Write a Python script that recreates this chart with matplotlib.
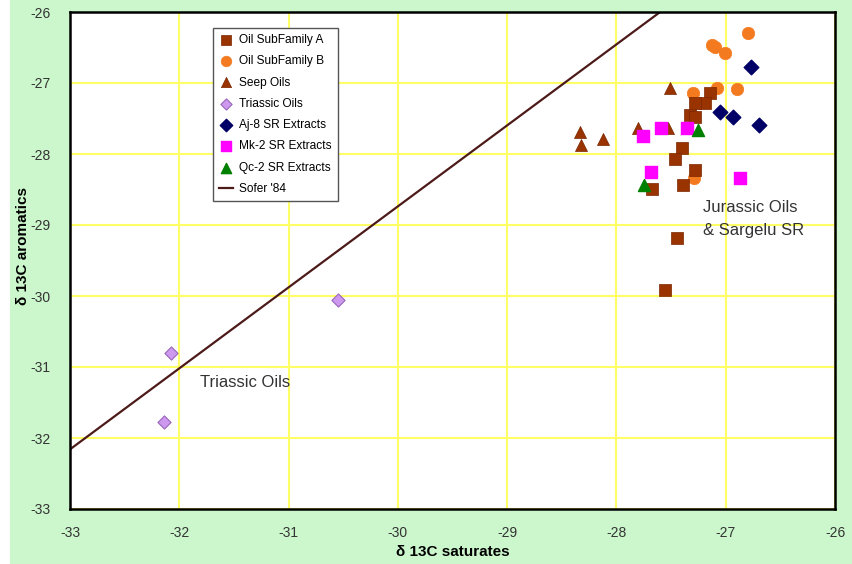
import matplotlib
matplotlib.use("Agg")
import matplotlib.pyplot as plt
from matplotlib.patches import Rectangle

plt.rcParams['font.family'] = ['Liberation Sans', 'DejaVu Sans']
plt.rcParams['axes.unicode_minus'] = False

# Data (delta 13C, per mil)
subA_sat = [-27.14, -27.19, -27.28, -27.33, -27.28, -27.40, -27.46, -27.28,
            -27.39, -27.67, -27.45, -27.56]
subA_aro = [-27.14, -27.28, -27.28, -27.45, -27.48, -27.91, -28.07, -28.22,
            -28.43, -28.49, -29.19, -29.91]

subB_sat = [-26.80, -27.13, -27.10, -27.01, -27.08, -26.90, -27.30, -27.29]
subB_aro = [-26.30, -26.46, -26.49, -26.58, -27.07, -27.09, -27.14, -28.34]

seep_sat = [-28.33, -28.32, -28.12, -27.51, -27.80, -27.53]
seep_aro = [-27.69, -27.88, -27.79, -27.07, -27.63, -27.63]

tri_sat = [-32.08, -32.14, -30.55]
tri_aro = [-30.80, -31.78, -30.06]

aj8_sat = [-26.77, -27.05, -26.93, -26.70]
aj8_aro = [-26.77, -27.41, -27.48, -27.59]

mk2_sat = [-27.76, -27.59, -27.35, -27.68, -26.87]
mk2_aro = [-27.74, -27.63, -27.63, -28.25, -28.34]

qc2_sat = [-27.25, -27.75]
qc2_aro = [-27.66, -28.43]

# Sofer '84 line end points
sofer_sat = [-33.0, -27.6]
sofer_aro = [-32.16, -26.0]

fig = plt.figure(figsize=(8.53, 5.64), dpi=100)
fig.patch.set_facecolor('white')
fig.patches.append(Rectangle((10 / 853, 0), 1, 1, transform=fig.transFigure,
                             facecolor='#ccf7cc', edgecolor='none', zorder=-10))

ax = fig.add_axes([70 / 853, 1 - 509 / 564, 765 / 853, 497 / 564])
ax.set_facecolor('white')

ax.plot(sofer_sat, sofer_aro, color='#4d1a1a', lw=1.6, label="Sofer '84", zorder=2)

ax.scatter(subA_sat, subA_aro, marker='s', s=70, color='#993300',
           edgecolors='#7a2600', linewidths=0.5, label='Oil SubFamily A', zorder=4)
ax.scatter(subB_sat, subB_aro, marker='o', s=80, color='#f47a20',
           edgecolors='#f47a20', linewidths=0.5, label='Oil SubFamily B', zorder=3)
ax.scatter(seep_sat, seep_aro, marker='^', s=75, color='#993300',
           edgecolors='#7a2600', linewidths=0.5, label='Seep Oils', zorder=4)
ax.scatter(tri_sat, tri_aro, marker='D', s=45, color='#cc99ee',
           edgecolors='#9966bb', linewidths=0.8, label='Triassic Oils', zorder=4)
ax.scatter(aj8_sat, aj8_aro, marker='D', s=55, color='#000066',
           edgecolors='#000066', label='Aj-8 SR Extracts', zorder=4)
ax.scatter(mk2_sat, mk2_aro, marker='s', s=75, color='#ff00ff',
           edgecolors='#ff00ff', label='Mk-2 SR Extracts', zorder=4)
ax.scatter(qc2_sat, qc2_aro, marker='^', s=75, color='#008000',
           edgecolors='#008000', label='Qc-2 SR Extracts', zorder=4)

ax.set_xlim(-33, -26)
ax.set_ylim(-33, -26)
ax.set_xticks(range(-33, -25))
ax.set_yticks(range(-33, -25))
ax.grid(True, color='#ffff66', lw=1.5, zorder=0)
ax.set_axisbelow(True)
for sp in ax.spines.values():
    sp.set_linewidth(1.8)
    sp.set_color('black')
ax.tick_params(length=0, labelsize=10, labelcolor='#333333', pad=12)
ax.tick_params(axis='y', pad=14)

ax.set_xlabel('\u03b4 13C saturates', fontsize=11, fontweight='bold',
              labelpad=4)
ax.set_ylabel('\u03b4 13C aromatics', fontsize=11, fontweight='bold')
ax.yaxis.set_label_coords(-0.052, 0.53)

ax.text(-27.21, -28.76, 'Jurassic Oils', fontsize=12, color='#333333',
        va='center', ha='left')
ax.text(-27.21, -29.08, '& Sargelu SR', fontsize=12, color='#333333',
        va='center', ha='left')
ax.text(-31.81, -31.22, 'Triassic Oils', fontsize=12, color='#333333',
        va='center', ha='left')

handles, labels = ax.get_legend_handles_labels()
order = [1, 2, 3, 4, 5, 6, 7, 0]
leg = ax.legend([handles[i] for i in order], [labels[i] for i in order],
                loc='upper left', bbox_to_anchor=(0.187, 0.968), fontsize=8.6,
                frameon=True, fancybox=False, edgecolor='#555555',
                handlelength=1.2, handletextpad=0.5, labelspacing=0.78,
                borderpad=0.5, borderaxespad=0, markerscale=0.85, framealpha=1)
leg.get_frame().set_linewidth(1.0)

fig.savefig('out.png', dpi=100, facecolor=fig.get_facecolor())
